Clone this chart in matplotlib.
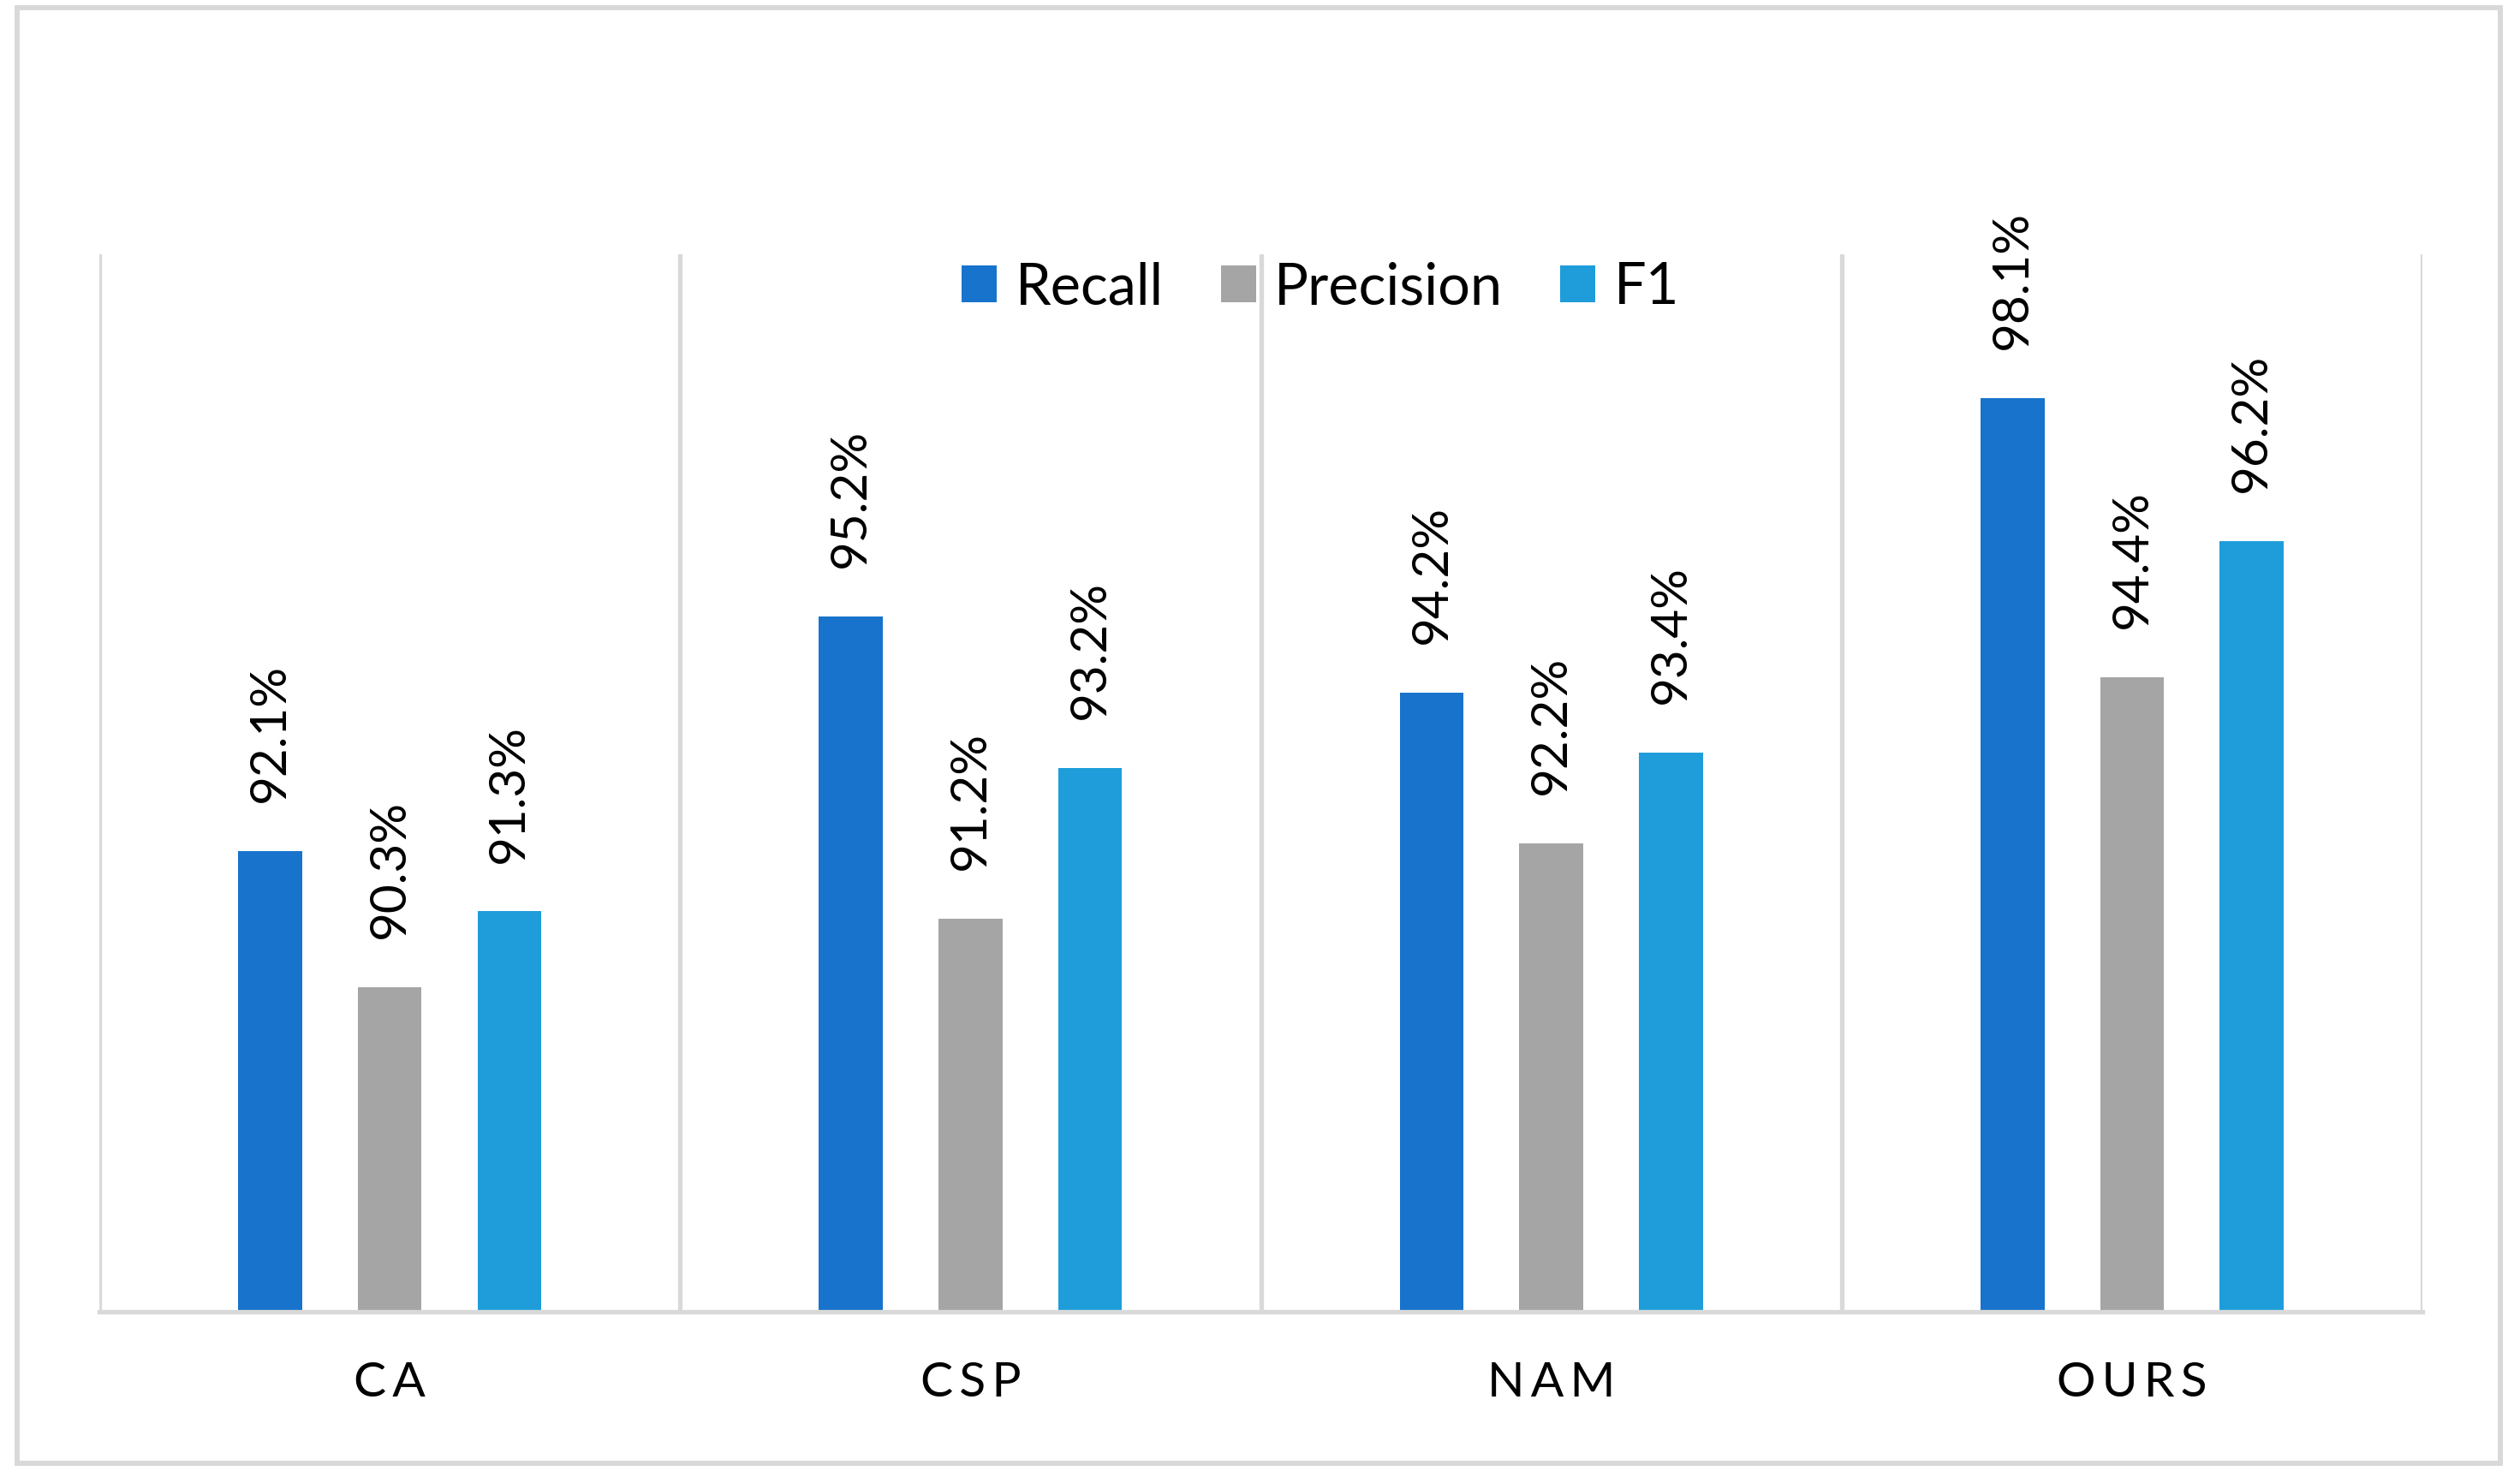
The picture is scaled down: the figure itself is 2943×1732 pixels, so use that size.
"""
Grouped bar chart: Recall / Precision / F1 for CA, CSP, NAM and OURS.
Writes out.png (2943x1732).
"""

import matplotlib.pyplot as plt
import numpy as np
from matplotlib.patches import Rectangle

methods = ["CA", "CSP", "NAM", "OURS"]
series_names = ["Recall", "Precision", "F1"]
recall = [92.1, 95.2, 94.2, 98.1]
precision = [90.3, 91.2, 92.2, 94.4]
f1 = [91.3, 93.2, 93.4, 96.2]

colors = ["#1873CC", "#A5A5A5", "#1E9DDA"]
grid_color = "#D9D9D9"

plt.rcParams["font.family"] = ["Lato", "DejaVu Sans"]

fig = plt.figure(figsize=(29.43, 17.32), dpi=100)
ax = fig.add_axes([0.0394, 0.1155, 0.9219, 0.7130])

x = np.arange(len(methods))
offset = 0.206
width = 0.11

for i, (name, vals) in enumerate(zip(series_names, [recall, precision, f1])):
    pos = x + (i - 1) * offset
    ax.bar(pos, vals, width=width, color=colors[i], label=name, zorder=3)
    for px, v in zip(pos, vals):
        ax.annotate(f"{v:.1f}%", (px, v), xytext=(0, 41), textcoords="offset points",
                    rotation=90, ha="center", va="bottom", fontsize=42, color="black")

ax.set_ylim(86, 100)
ax.set_xlim(-0.5, len(methods) - 0.5)

# category separators
for b in np.arange(-0.5, len(methods), 1.0):
    ax.axvline(b, color=grid_color, lw=3.8, zorder=1)

for s in ["top", "right", "left"]:
    ax.spines[s].set_visible(False)
ax.spines["bottom"].set_color(grid_color)
ax.spines["bottom"].set_linewidth(3.8)
ax.spines["bottom"].set_zorder(4)

ax.set_yticks([])
ax.set_xticks(x)
ax.set_xticklabels(["\u2009".join(m) for m in methods], fontsize=41)
ax.tick_params(axis="x", length=0, pad=42)

leg = fig.legend(loc="center", bbox_to_anchor=(0.524, 0.806), ncol=3, frameon=False,
                 fontsize=48, handlelength=0.62, handleheight=0.62,
                 handletextpad=0.32, columnspacing=1.0)

# outer chart border
fig.patches.append(Rectangle((20 / 2943, 1 - 1709 / 1732), (2920 - 20) / 2943,
                             (1709 - 9) / 1732, transform=fig.transFigure,
                             fill=False, edgecolor=grid_color, lw=4.3))

fig.savefig("out.png", dpi=100)
plt.close(fig)
